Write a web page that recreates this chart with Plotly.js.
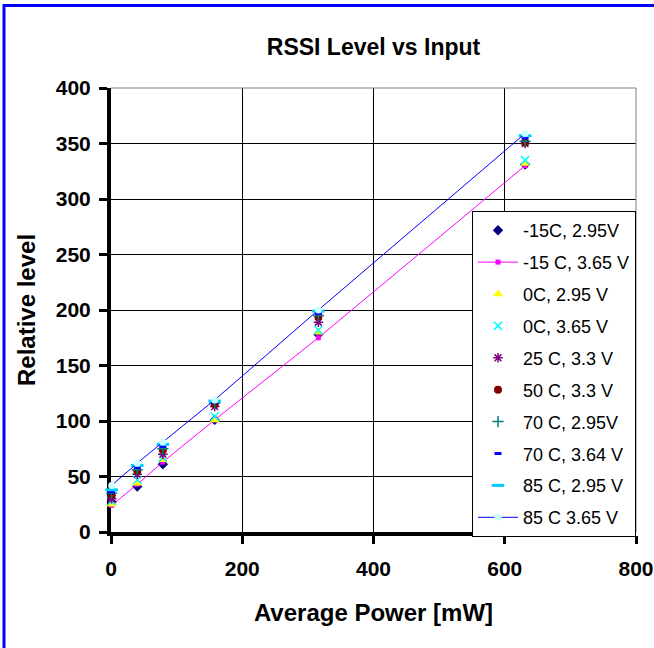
<!DOCTYPE html>
<html>
<head>
<meta charset="utf-8">
<script src="https://cdn.plot.ly/plotly-3.0.1.min.js"></script>
<style>html,body{margin:0;padding:0;background:#fff;}#chart{width:654px;height:648px;}</style>
</head>
<body>
<div id="chart"></div>
<script>
// Data
const power = [1, 40, 79, 158, 316, 631];
const seriesNames = ["-15C, 2.95V", "-15 C, 3.65 V", "0C, 2.95 V", "0C, 3.65 V", "25 C, 3.3 V",
                     "50 C, 3.3 V", "70 C, 2.95V", "70 C, 3.64 V", "85 C, 2.95 V", "85 C 3.65 V"];
const m15_295 = [27, 41, 61, 101, 178, 331];
const m15_365 = [24, 43, 63, 101, 175, 330];
const c0_295  = [25, 44, 65, 101, 180, 332];
const c0_365  = [28, 47, 67, 104, 182, 335];
const c25_33  = [30, 52, 70, 113, 189, 350];
const c50_33  = [33, 55, 74, 115, 194, 351];
const c70_295 = [35, 56, 75, 116, 195, 352];
const c70_364 = [36, 58, 77, 117, 197, 355];
const c85_295 = [38, 60, 79, 118, 199, 357];
const c85_365 = [42, 62, 81, 119, 200, 359];
const xTicks = [0, 200, 400, 600, 800];
const yTicks = [0, 50, 100, 150, 200, 250, 300, 350, 400];

const seriesValues = [m15_295, m15_365, c0_295, c0_365, c25_33, c50_33, c70_295, c70_364, c85_295, c85_365];
const styles = [
  {mode: 'markers', marker: {symbol: 'diamond', size: 8, color: '#000080'}},
  {mode: 'lines+markers', line: {color: '#FF00FF', width: 1}, marker: {symbol: 'square', size: 5, color: '#FF00FF'}},
  {mode: 'markers', marker: {symbol: 'triangle-up', size: 9, color: '#FFFF00'}},
  {mode: 'markers', marker: {symbol: 'x-thin-open', size: 8, color: '#00FFFF', line: {width: 1.5, color: '#00FFFF'}}},
  {mode: 'markers', marker: {symbol: 'asterisk-open', size: 8, color: '#800080', line: {width: 1.5, color: '#800080'}}},
  {mode: 'markers', marker: {symbol: 'circle', size: 8, color: '#800000'}},
  {mode: 'markers', marker: {symbol: 'cross-thin-open', size: 8, color: '#008080', line: {width: 1.5, color: '#008080'}}},
  {mode: 'markers', marker: {symbol: 'line-ew-open', size: 5, color: '#0000FF', line: {width: 3, color: '#0000FF'}}},
  {mode: 'markers', marker: {symbol: 'line-ew-open', size: 9, color: '#00CCFF', line: {width: 3, color: '#00CCFF'}}},
  {mode: 'lines+markers', line: {color: '#0000FF', width: 1}, marker: {symbol: 'circle', size: 7, color: '#CCFFFF'}}
];

const traces = seriesNames.map((name, i) => Object.assign({
  type: 'scatter', x: power, y: seriesValues[i], name: name,
  legendgroup: 'g' + i, cliponaxis: false
}, styles[i]));

const L = 111, R = 636, T = 88, B = 532;
const px2x = p => (p - L) / (R - L);
const px2y = p => (B - p) / (B - T);

const layout = {
  width: 654, height: 648,
  margin: {l: L, r: 654 - R, t: T, b: 648 - B},
  paper_bgcolor: '#fff', plot_bgcolor: '#fff',
  font: {family: 'Liberation Sans, Arial, sans-serif', color: '#000'},
  title: {text: 'RSSI Level vs Input', font: {size: 23, weight: 'bold', color: '#000'},
          x: 0.5, xref: 'paper', xanchor: 'center', y: 1 - 47 / 648, yref: 'container', yanchor: 'middle'},
  xaxis: {
    range: [0, 800], tickvals: xTicks, ticktext: xTicks.map(String),
    showgrid: true, gridcolor: '#000', gridwidth: 1, zeroline: false,
    showline: true, linecolor: '#000', linewidth: 4,
    ticks: 'outside', ticklen: 8, tickwidth: 3, tickcolor: '#000',
    tickfont: {size: 21, weight: 'bold'}, ticklabelstandoff: 7,
    title: {text: 'Average Power [mW]', font: {size: 24, weight: 'bold'}, standoff: 26},
    layer: 'below traces', fixedrange: true
  },
  yaxis: {
    range: [0, 400], tickvals: yTicks, ticktext: yTicks.map(String),
    showgrid: true, gridcolor: '#000', gridwidth: 1, zeroline: false,
    showline: true, linecolor: '#000', linewidth: 4,
    ticks: 'outside', ticklen: 8, tickwidth: 3, tickcolor: '#000',
    tickfont: {size: 21, weight: 'bold'}, ticklabelstandoff: 4,
    title: {text: 'Relative level', font: {size: 24, weight: 'bold'}, standoff: 14},
    layer: 'below traces', fixedrange: true
  },
  showlegend: true,
  legend: {
    x: 1, xanchor: 'right', y: px2y(211), yanchor: 'top',
    bgcolor: '#fff', bordercolor: '#000', borderwidth: 1,
    font: {size: 18, color: '#000'}, itemwidth: 40, tracegroupgap: 5.5,
    traceorder: 'grouped'
  },
  shapes: [
    {type: 'path', xref: 'paper', yref: 'paper', layer: 'above',
     path: `M ${px2x(111)},${px2y(88)} L ${px2x(636)},${px2y(88)} L ${px2x(636)},${px2y(532)}`,
     line: {color: '#808080', width: 1}},
    {type: 'path', xref: 'paper', yref: 'paper', layer: 'above',
     path: `M ${px2x(4)},${px2y(660)} L ${px2x(4)},${px2y(5.5)} L ${px2x(670)},${px2y(5.5)}`,
     line: {color: '#0000FF', width: 3}}
  ]
};

Plotly.newPlot('chart', traces, layout, {staticPlot: true, displayModeBar: false});
</script>
</body>
</html>
